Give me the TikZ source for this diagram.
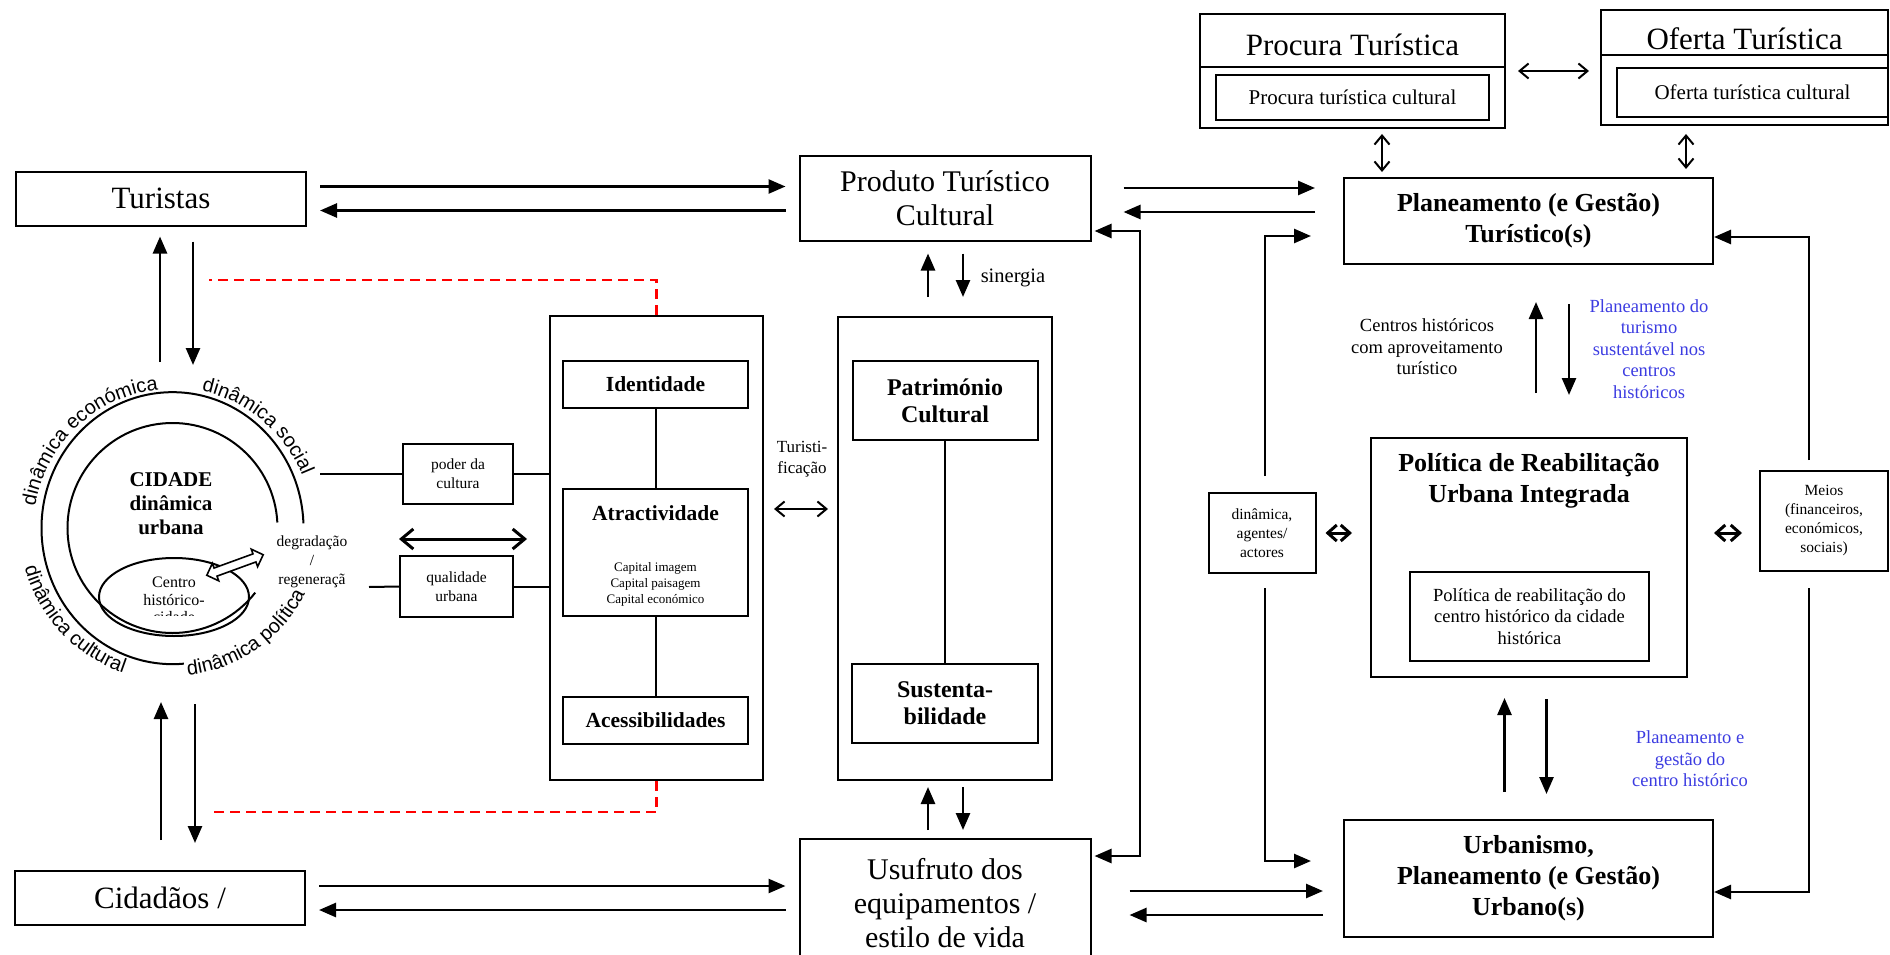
\documentclass[tikz,border=0pt]{standalone}
\usepackage{fontspec}
\setmainfont{Liberation Serif}
\setsansfont{Liberation Sans}
\usetikzlibrary{positioning, calc, arrows.meta, shapes.arrows, decorations.text}
\definecolor{planblue}{RGB}{60,60,225}
\newcommand\fnBig{\fontsize{31}{35}\selectfont}
\newcommand\fnProd{\fontsize{30}{34}\selectfont}
\newcommand\fnHead{\bfseries\fontsize{26}{31}\selectfont}
\newcommand\fnSub{\fontsize{21}{25}\selectfont}
\newcommand\fnBox{\bfseries\fontsize{21.5}{25}\selectfont}
\newcommand\fnPat{\bfseries\fontsize{24}{27}\selectfont}
\newcommand\fnCid{\bfseries\fontsize{21}{24}\selectfont}
\newcommand\fnNote{\fontsize{18.5}{21.5}\selectfont}
\newcommand\fnSmall{\fontsize{15.5}{19}\selectfont}
\newcommand\fnCentro{\fontsize{16}{17.5}\selectfont}
\newcommand\fnCap{\fontsize{13}{16}\selectfont}
\newcommand\fnArc{\sffamily\fontsize{20}{20}\selectfont}
\tikzstyle{bx}=[draw,line width=2pt,inner sep=0pt,align=center]
\tikzstyle{lbl}=[inner sep=0pt,align=center]
\tikzstyle{lnk}=[line width=2pt]
\tikzstyle{arr}=[line width=2.6pt,-{Triangle[length=17pt,width=14pt]}]
\tikzstyle{arrb}=[line width=2.6pt,{Triangle[length=17pt,width=14pt]}-{Triangle[length=17pt,width=14pt]}]
\tikzstyle{dbl}=[line width=2pt,{Straight Barb[length=9pt,width=15pt]}-{Straight Barb[length=9pt,width=15pt]}]
\tikzstyle{chv}=[line width=3pt,{Straight Barb[length=9pt,width=16pt]}-{Straight Barb[length=9pt,width=16pt]}]
\tikzstyle{wide}=[line width=3pt,{Straight Barb[length=12pt,width=20pt]}-{Straight Barb[length=12pt,width=20pt]}]
\tikzstyle{reddash}=[red,line width=2.2pt,dash pattern=on 10pt off 6pt]

\begin{document}
\begin{tikzpicture}[x=1pt,y=-1pt]
\useasboundingbox (0,0) rectangle (1890,955);
\clip (0,0) rectangle (1890,955);
% main boxes
\node[bx,minimum width=290pt,minimum height=54pt,font=\fnBig] (tur) at (161,198.5) {Turistas};
\node[bx,minimum width=290pt,minimum height=54pt,font=\fnBig] (cid) at (160,898) {Cidadãos /};
\node[bx,minimum width=291pt,minimum height=84pt,font=\fnProd] (prod) at (945,198.5) {Produto Turístico\\Cultural};
\node[bx,minimum width=291pt,minimum height=128pt,font=\fnProd] (usu) at (945,903) {Usufruto dos\\equipamentos /\\estilo de vida};
\node[bx,minimum width=369pt,minimum height=86pt,font=\fnHead] (planT) at (1528.5,221) {Planeamento (e Gestão)\\Turístico(s)};
\node[bx,minimum width=369pt,minimum height=117pt,font=\fnHead] (urb) at (1528.5,878.5) {Urbanismo,\\Planeamento (e Gestão)\\Urbano(s)};
% procura / oferta
\node[bx,minimum width=305pt,minimum height=114pt] (proc) at (1352.5,71) {};
\node[lbl,font=\fnBig] (procH) at (1352.5,45) {Procura Turística};
\node[bx,line width=2.8pt,minimum width=273pt,minimum height=45pt,font=\fnSub] (procI) at (1352.5,97.5) {Procura turística cultural};
\node[bx,minimum width=287pt,minimum height=115pt] (ofer) at (1744.5,67.5) {};
\node[lbl,font=\fnBig] (oferH) at (1744.5,39) {Oferta Turística};
\node[bx,line width=2.8pt,minimum width=271pt,minimum height=49pt,font=\fnSub] (oferI) at (1752.5,92.5) {Oferta turística cultural};
\draw[lnk] ([yshift=-54pt]proc.north west) -- ([yshift=-54pt]proc.north east);
\draw[lnk] ([yshift=-46pt]ofer.north west) -- ([yshift=-46pt]ofer.north east);
% politica
\node[bx,minimum width=316pt,minimum height=239pt] (polR) at (1529,557.5) {};
\node[lbl,font=\fnHead] (polT) at (1529,481) {Política de Reabilitação\\Urbana Integrada};
\node[bx,minimum width=239pt,minimum height=89pt,font=\fnNote] (polI) at (1529.5,616.5) {Política de reabilitação do\\centro histórico da cidade\\histórica};
\node[bx,minimum width=107pt,minimum height=80pt,font=\fnSmall] (dinam) at (1262,533) {dinâmica,\\agentes/\\actores};
\node[bx,minimum width=128pt,minimum height=100pt,font=\fnSmall] (meios) at (1824,521) {Meios\\(financeiros,\\económicos,\\sociais)};
% identidade / patrimonio
\node[bx,minimum width=213pt,minimum height=464pt] (grpId) at (656.5,548) {};
\node[bx,minimum width=185pt,minimum height=47pt,font=\fnBox] (ident) at (655.5,384.5) {Identidade};
\node[bx,minimum width=185pt,minimum height=127pt] (atr) at (655.5,552.5) {};
\node[lbl,font=\fnBox] (atrT) at (655.5,513) {Atractividade};
\node[lbl,font=\fnCap] (atrC) at (655.5,584) {Capital imagem\\Capital paisagem\\Capital económico};
\node[bx,minimum width=185pt,minimum height=47pt,font=\fnBox] (aces) at (655.5,720.5) {Acessibilidades};
\node[bx,minimum width=214pt,minimum height=463pt] (patO) at (945,548.5) {};
\node[bx,minimum width=185pt,minimum height=79pt,font=\fnPat] (patI) at (945,400.5) {Património\\Cultural};
\node[bx,minimum width=186pt,minimum height=79pt,font=\fnPat] (sust) at (945,703.5) {Sustenta-\\bilidade};
\node[bx,minimum width=110pt,minimum height=60pt,font=\fnSmall] (poder) at (458,474) {poder da\\cultura};
\node[bx,minimum width=113pt,minimum height=61pt,font=\fnSmall] (qual) at (456.5,586.5) {qualidade\\urbana};
% labels
\node[lbl,font=\fontsize{20.5}{24}\selectfont] (sin) at (1013,278) {sinergia};
\node[lbl,font=\fontsize{17}{21}\selectfont] (turf) at (802,459) {Turisti-\\ficação};
\node[lbl,font=\fnNote] (centros) at (1427,347) {Centros históricos\\com aproveitamento\\turístico};
\node[lbl,font=\fnNote,text=planblue] (blueA) at (1649,349) {Planeamento do\\turismo\\sustentável nos\\centros\\históricos};
\node[lbl,font=\fnNote,text=planblue] (blueB) at (1690,759) {Planeamento e\\gestão do\\centro histórico};
% cidade
\begin{scope}[shift={(172.5,528)},x=1pt,y=1pt]
\draw[lnk] (2:131) arc[start angle=2,end angle=275,x radius=131,y radius=136];
\draw[lnk] (3:105) arc[start angle=3,end angle=322,radius=105];
\draw[lnk] (1.5,-69) ellipse[x radius=75,y radius=39];
\path[decorate,decoration={text along path,text={|\fnArc|dinâmica económica}}] (171:139) arc[start angle=171,end angle=85,radius=139];
\path[decorate,decoration={text along path,text={|\fnArc|dinâmica social}}] (78:140) arc[start angle=78,end angle=5,radius=140];
\path[decorate,decoration={text along path,text={|\fnArc|dinâmica cultural}}] (195:153) arc[start angle=195,end angle=265,radius=153];
\path[decorate,decoration={text along path,text={|\fnArc|dinâmica política}}] (276:148) arc[start angle=276,end angle=345,radius=148];
\end{scope}
\node[lbl,font=\fnCid] (cidT) at (171,504) {CIDADE\\dinâmica\\urbana};
\node[lbl,font=\fnSmall] (degr) at (312,562) {degradação\\/\\regeneraçã};
\begin{scope}
\clip (95,560) rectangle (250,615);
\node[lbl,font=\fnCentro] (ctr) at (174,600) {Centro\\histórico-\\cidade};
\end{scope}
\node[double arrow,draw,line width=1.6pt,fill=white,minimum height=60pt,inner sep=3.5pt,double arrow head extend=5pt,rotate=20] (hol) at (235,565) {};
% free ends
\coordinate (ctA) at (160,362);
\coordinate (ctB) at (193,365);
\coordinate (cbA) at (161,702);
\coordinate (cbB) at (195,704);
\coordinate (rdT) at (209,280);
\coordinate (rdB) at (209,812);
\coordinate (pdL) at (320,474);
\coordinate (qlL) at (369,587);
\coordinate (lpA) at (1140,231);
\coordinate (lpB) at (1140,856);
\coordinate (lcA) at (1265,476);
\coordinate (lcB) at (1265,588);
\coordinate (rcA) at (1809,460);
\coordinate (rcB) at (1809,588);
% connectors
\foreach \a/\b in {tur/prod,cid/usu} {
  \draw[arr,shorten <=13pt,shorten >=13pt] ([yshift=12pt]\a.east) -- ([yshift=12pt]\a.east -| \b.west);
  \draw[arr,shorten <=13pt,shorten >=13pt] ([yshift=-12pt]\a.east -| \b.west) -- ([yshift=-12pt]\a.east);}
\draw[arr,shorten <=32pt,shorten >=28pt] ([yshift=10.5pt]prod.east) -- ([yshift=10.5pt]prod.east -| planT.west);
\draw[arr,shorten <=28pt,shorten >=32pt] ([yshift=-13.5pt]prod.east -| planT.west) -- ([yshift=-13.5pt]prod.east);
\draw[arr,shorten <=38pt,shorten >=20pt] ([yshift=12pt]usu.east) -- ([yshift=12pt]usu.east -| urb.west);
\draw[arr,shorten <=20pt,shorten >=38pt] ([yshift=-12pt]usu.east -| urb.west) -- ([yshift=-12pt]usu.east);
\draw[arrb,shorten <=3pt,shorten >=3pt] (lpA -| prod.east) -- (lpA) -- (lpB) -- (lpB -| usu.east);
\draw[arr,shorten >=10pt] (ctA) -- (ctA |- tur.south);
\draw[arr,shorten <=15pt] (ctB |- tur.south) -- (ctB);
\draw[arr,shorten <=30pt] (cbA |- cid.north) -- (cbA);
\draw[arr,shorten >=27pt] (cbB) -- (cbB |- cid.north);
\draw[reddash] (grpId.north) |- (rdT);
\draw[reddash] (grpId.south) |- (rdB);
\draw[lnk] (pdL) -- (poder.west);
\draw[lnk] (poder.east) -- (poder.east -| grpId.west);
\draw[lnk] (qlL) -- (qual.west);
\draw[lnk] (qual.east) -- (qual.east -| grpId.west);
\draw[wide] ([yshift=16pt]qual.north west) -- ([yshift=16pt,xshift=13pt]qual.north east);
\foreach \s/\e in {ident/atr,atr/aces,patI/sust} \draw[lnk] (\s) -- (\e);
\draw[dbl,shorten <=10pt,shorten >=9pt] ([yshift=39pt]grpId.east) -- ([yshift=39pt]grpId.east -| patO.west);
\draw[arr,shorten <=19pt,shorten >=12pt] ([xshift=-17pt]patO.north) -- ([xshift=-17pt]patO.north |- prod.south);
\draw[arr,shorten <=12pt,shorten >=19pt] ([xshift=18pt]patO.north |- prod.south) -- ([xshift=18pt]patO.north);
\draw[arr,shorten <=8pt,shorten >=6pt] ([xshift=-17pt]usu.north) -- ([xshift=-17pt]usu.north |- patO.south);
\draw[arr,shorten <=6pt,shorten >=8pt] ([xshift=18pt]usu.north |- patO.south) -- ([xshift=18pt]usu.north);
\draw[dbl,shorten <=12pt,shorten >=11pt] (proc.east) -- (proc.east -| ofer.west);
\draw[dbl,shorten <=5pt,shorten >=5pt] ([xshift=29.5pt]proc.south) -- ([xshift=29.5pt]proc.south |- planT.north);
\draw[dbl,shorten <=8pt,shorten >=8pt] ([xshift=-58.5pt]ofer.south) -- ([xshift=-58.5pt]ofer.south |- planT.north);
\draw[arr,shorten >=32pt] (lcA) |- ([yshift=-15pt]planT.west);
\draw[arr,shorten >=32pt] (lcB) |- ([yshift=17.5pt]urb.west);
\draw[arr] (rcA) |- ([yshift=-16pt]planT.east);
\draw[arr] (rcB) |- ([yshift=-13.5pt]urb.east);
\draw[chv,shorten <=9pt,shorten >=18pt] (dinam.east) -- (dinam.east -| polR.west);
\draw[chv,shorten <=26pt,shorten >=17pt] (dinam.east -| polR.east) -- (dinam.east -| meios.west);
\draw[arr,shorten <=44pt,shorten >=37pt] ([xshift=7pt]polR.north) -- ([xshift=7pt]polR.north |- planT.south);
\draw[arr,shorten <=39pt,shorten >=42pt] ([xshift=40pt]polR.north |- planT.south) -- ([xshift=40pt]polR.north);
\draw[arr,shorten <=27pt,shorten >=20pt] ([xshift=-24pt]urb.north) -- ([xshift=-24pt]urb.north |- polR.south);
\draw[arr,shorten <=21pt,shorten >=25pt] ([xshift=18pt]urb.north |- polR.south) -- ([xshift=18pt]urb.north);
\end{tikzpicture}
\end{document}
